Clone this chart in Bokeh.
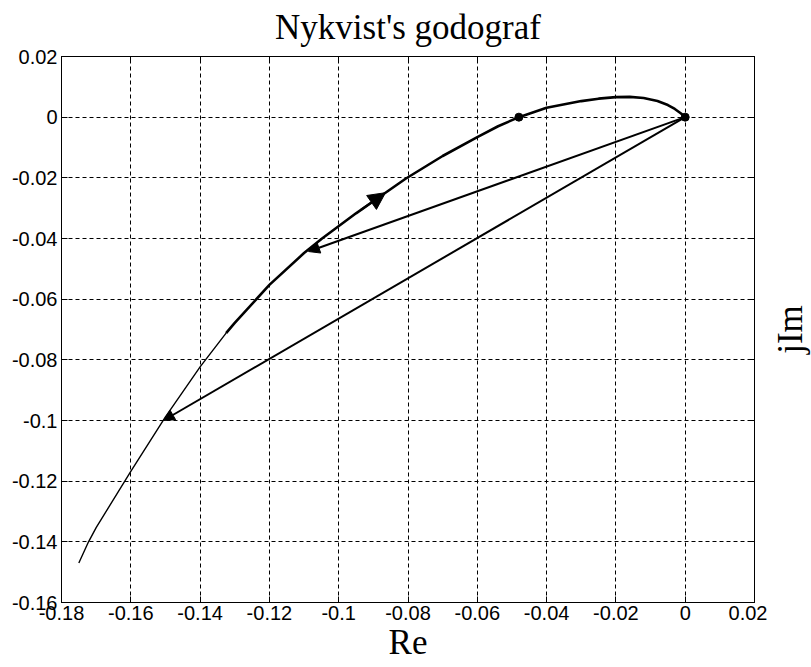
import math
from bokeh.plotting import figure
from bokeh.layouts import row
from bokeh.models import (Range1d, FixedTicker, LinearAxis, Arrow, NormalHead,
                          ColumnDataSource)
from bokeh.embed import file_html
from bokeh.resources import INLINE

# ---- data ----
x_ticks = [-0.18, -0.16, -0.14, -0.12, -0.10, -0.08, -0.06, -0.04, -0.02, 0.0, 0.02]
x_tick_labels = ["-0.18", "-0.16", "-0.14", "-0.12", "-0.1", "-0.08", "-0.06",
                 "-0.04", "-0.02", "0", "0.02"]
y_ticks = [-0.16, -0.14, -0.12, -0.10, -0.08, -0.06, -0.04, -0.02, 0.0, 0.02]
y_tick_labels = ["-0.16", "-0.14", "-0.12", "-0.1", "-0.08", "-0.06", "-0.04",
                 "-0.02", "0", "0.02"]

# Nyquist curve, lower (thin) part
low_re = [-0.175, -0.1722, -0.170, -0.160, -0.150, -0.140, -0.1325]
low_im = [-0.147, -0.140, -0.1353, -0.1168, -0.0988, -0.0823, -0.0712]
# Nyquist curve, upper (thick) part
up_re = [-0.1325, -0.130, -0.120, -0.110, -0.1048, -0.095, -0.0865, -0.0807,
         -0.070, -0.060, -0.054, -0.048, -0.040, -0.030, -0.025, -0.020,
         -0.016, -0.012, -0.008, -0.005, -0.003, -0.0012, 0.0]
up_im = [-0.0712, -0.0678, -0.0553, -0.0448, -0.040, -0.0317, -0.0249, -0.0203,
         -0.0128, -0.0066, -0.0030, 0.0, 0.0031, 0.0053, 0.0061, 0.0066,
         0.0067, 0.0063, 0.0053, 0.0040, 0.0027, 0.0012, 0.0]

# marked points
dot_re = [0.0, -0.048]
dot_im = [0.0, 0.0]

# vectors from origin
vec_end_re = [-0.1087, -0.1506]
vec_end_im = [-0.0443, -0.100]

# direction arrow on the curve
dir_start_re = [-0.0935]
dir_start_im = [-0.0305]
dir_end_re = [-0.0865]
dir_end_im = [-0.0249]

title_text = "Nykvist's godograf"
x_label = "Re"
y_label = "jIm"

tick_font = "Liberation Sans"
serif = "Liberation Serif"

# ---- main figure ----
p = figure(width=767, height=667, output_backend="svg", toolbar_location=None,
           x_range=Range1d(-0.18, 0.02), y_range=Range1d(-0.16, 0.02),
           min_border_left=61, min_border_right=13, min_border_top=56,
           min_border_bottom=65)
p.background_fill_color = "white"
p.border_fill_color = "white"
p.outline_line_color = "black"
p.outline_line_width = 1

xt = FixedTicker(ticks=x_ticks)
yt = FixedTicker(ticks=y_ticks)

xa = p.xaxis[0]
xa.ticker = xt
xa.major_label_overrides = {v: s for v, s in zip(x_ticks, x_tick_labels)}
ya = p.yaxis[0]
ya.ticker = yt
ya.major_label_overrides = {v: s for v, s in zip(y_ticks, y_tick_labels)}

for ax in (xa, ya):
    ax.major_label_text_font = tick_font
    ax.major_label_text_font_size = "20px"
    ax.major_label_text_color = "black"
    ax.major_tick_in = 6
    ax.major_tick_out = 0
    ax.minor_tick_in = 0
    ax.minor_tick_out = 0
    ax.axis_line_color = "black"
    ax.major_tick_line_color = "black"
    ax.axis_label_text_font = serif
    ax.axis_label_text_font_size = "35px"
    ax.axis_label_text_font_style = "normal"
    ax.axis_label_text_color = "black"

xa.axis_label = x_label
xa.major_label_standoff = 3
xa.axis_label_standoff = 0
ya.major_label_standoff = 4

top_ax = LinearAxis(ticker=xt, major_label_overrides={v: "" for v in x_ticks},
                    major_tick_in=6, major_tick_out=0, minor_tick_in=0,
                    minor_tick_out=0, major_label_text_font_size="1px",
                    major_label_standoff=0)
p.add_layout(top_ax, "above")

right_ax = LinearAxis(ticker=yt, major_label_overrides={v: "" for v in y_ticks},
                      major_tick_in=6, major_tick_out=0, minor_tick_in=0,
                      minor_tick_out=0, major_label_text_font_size="1px",
                      major_label_standoff=0)
p.add_layout(right_ax, "right")

p.xgrid.ticker = xt
p.ygrid.ticker = yt
for g in (p.xgrid, p.ygrid):
    g.grid_line_color = "black"
    g.grid_line_width = 1
    g.grid_line_dash = "4 3"
    g.grid_line_alpha = 1.0

p.title.text = title_text
p.title.text_font = serif
p.title.text_font_size = "35px"
p.title.text_font_style = "normal"
p.title.text_color = "black"
p.title.align = "center"
p.title.offset = 16
p.title.standoff = 15
p.title.vertical_align = "top"

# curve
p.line(low_re, low_im, line_color="black", line_width=1.4)
p.line(up_re, up_im, line_color="black", line_width=2.6)

# vectors from origin
vsrc = ColumnDataSource(dict(xs=[0.0] * len(vec_end_re), ys=[0.0] * len(vec_end_im),
                             xe=vec_end_re, ye=vec_end_im))
p.add_layout(Arrow(end=NormalHead(size=11, fill_color="black", line_color="black",
                                  line_width=1),
                   x_start="xs", y_start="ys", x_end="xe", y_end="ye",
                   source=vsrc, line_color="black", line_width=2))

# direction arrow
dsrc = ColumnDataSource(dict(xs=dir_start_re, ys=dir_start_im,
                             xe=dir_end_re, ye=dir_end_im))
p.add_layout(Arrow(end=NormalHead(size=17, fill_color="black", line_color="black",
                                  line_width=1),
                   x_start="xs", y_start="ys", x_end="xe", y_end="ye",
                   source=dsrc, line_color="black", line_width=2))

p.scatter(dot_re, dot_im, size=8, color="black")

# ---- side strip carrying the vertical "jIm" label ----
s = figure(width=44, height=667, output_backend="svg", toolbar_location=None,
           x_range=Range1d(0, 1), y_range=Range1d(-0.16, 0.02),
           min_border_left=0, min_border_right=0, min_border_top=56,
           min_border_bottom=65, x_axis_location=None)
s.outline_line_color = None
s.background_fill_color = "white"
s.border_fill_color = "white"
s.grid.visible = False
sa = s.yaxis[0]
sa.axis_label = y_label
sa.axis_label_text_font = serif
sa.axis_label_text_font_size = "35px"
sa.axis_label_text_font_style = "normal"
sa.axis_label_text_color = "black"
sa.axis_label_standoff = 0
sa.major_tick_in = 0
sa.major_tick_out = 0
sa.minor_tick_in = 0
sa.minor_tick_out = 0
sa.axis_line_color = None
sa.major_label_text_font_size = "0px"
sa.major_label_standoff = 0
sa.major_label_overrides = {v: "" for v in y_ticks}
sa.ticker = FixedTicker(ticks=y_ticks)

layout = row(p, s, spacing=0)
open("out.html", "w").write(file_html(layout, INLINE))
